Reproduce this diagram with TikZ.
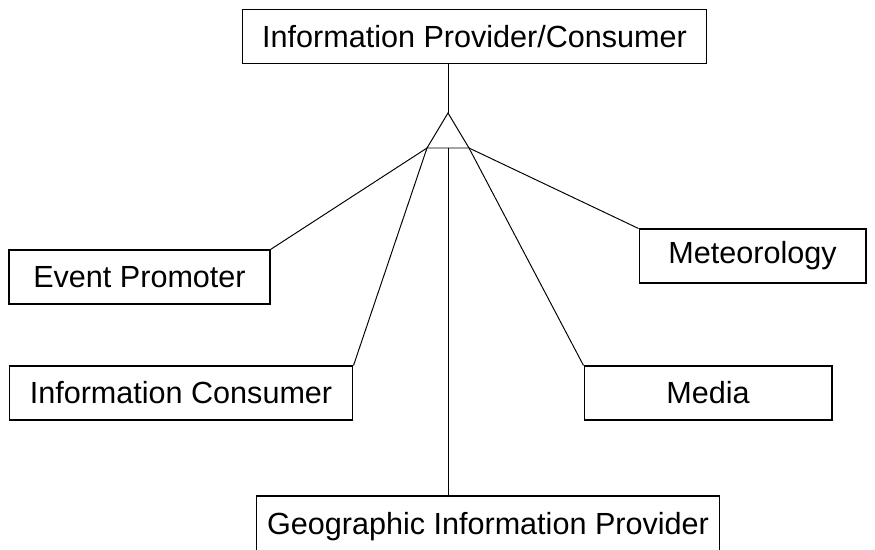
\documentclass[tikz,border=0pt]{standalone}
\usepackage{fontspec}
\setmainfont{Liberation Sans}
\usetikzlibrary{positioning}

\begin{document}
\begin{tikzpicture}[x=0.02cm,y=-0.02cm,
  role/.style={draw,line width=0.6pt,inner sep=0pt,minimum height=1.08cm,font=\fontsize{17.4pt}{20pt}\selectfont},
  link/.style={line width=0.55pt}]
\useasboundingbox (0,0) rectangle (875,549);
\node[role,minimum width=9.3cm] (ipc) at (474.5,36.5) {Information Provider/Consumer};
\node[role,minimum width=5.22cm] (event) at (139.5,277) {Event Promoter};
\node[role,minimum width=6.88cm] (cons) at (181,393) {Information Consumer};
\node[role,minimum width=4.54cm] (meteo) at (752.5,256) {Meteorology};
\node[role,minimum width=4.96cm] (media) at (708,393) {Media};
\node[role,minimum width=9.28cm,minimum height=1.24cm] (geo) at (488,527) {Geographic Information Provider};
\coordinate (apex) at (448,113);
\coordinate (baseL) at (427,148);
\coordinate (baseR) at (469,148);
\coordinate (baseM) at (448,148);
\draw[link] (apex) -- (baseL) -- (baseR) -- cycle;
\draw[link] (ipc.south -| apex) -- (apex);
\draw[link] (baseM) -- (baseM |- geo.north);
\draw[link] (baseL) -- (event.north east);
\draw[link] (baseL) -- (cons.north east);
\draw[link] (baseR) -- (meteo.north west);
\draw[link] (baseR) -- (media.north west);
\end{tikzpicture}
\end{document}
